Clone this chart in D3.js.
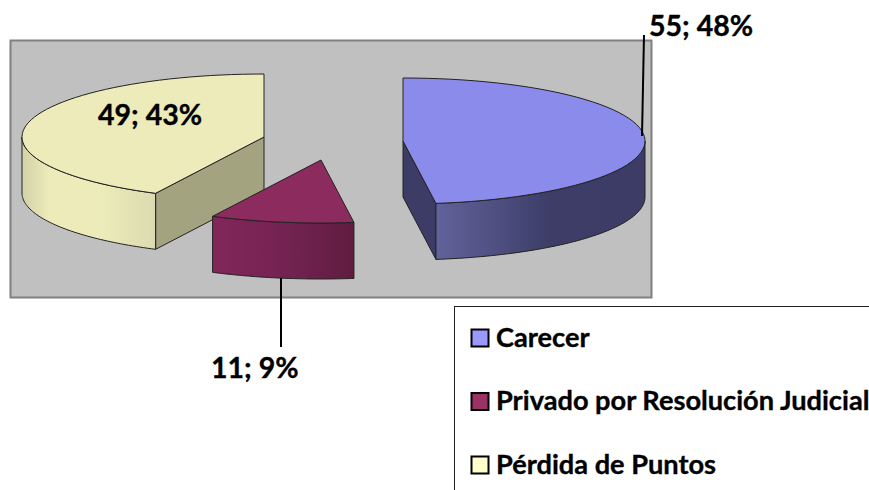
<!DOCTYPE html>
<html>
<head>
<meta charset="utf-8">
<script src="https://cdn.jsdelivr.net/npm/d3@7"></script>
<style>
  html, body { margin: 0; padding: 0; background: #fff; overflow: hidden; }
  text { font-family: Lato, "Open Sans", sans-serif; font-weight: 700; fill: #000; stroke: #000; stroke-width: 0.35px; }
</style>
</head>
<body>
<script>
//Chart data
var categories = ["Carecer", "Privado por Resolución Judicial", "Pérdida de Puntos"];
var values = [55, 11, 49];
var percents = [48, 9, 43];

//Colors per slice
var topColors = ["#8b8bec", "#8c2b5e", "#ecebb9"];
var legendColors = ["#9999ff", "#993366", "#ffffcc"];
var faceColors = ["#3c3c66", "#661f45", "#a4a380"];
var rimStops = [
    [["0%", "#62629c"], ["55%", "#3d3d68"], ["100%", "#3c3c66"]],
    [["0%", "#82265a"], ["55%", "#722350"], ["100%", "#5f1c40"]],
    [["0%", "#d3d1a8"], ["20%", "#ecebb9"], ["60%", "#ecebb9"], ["100%", "#dcdab0"]]
];

//Pie layout: ellipse size, depth and the exploded center of each slice
var rx = 242, ry = 63, depth = 56;
var centers = [[403, 141], [321, 160], [264, 137]];

var width = 869, height = 490;
var svg = d3.select("body").append("svg")
    .attr("width", width)
    .attr("height", height);
var defs = svg.append("defs");

//Plot area
svg.append("rect")
    .attr("x", 10.5).attr("y", 40.5)
    .attr("width", 641).attr("height", 257)
    .attr("fill", "#c0c0c0")
    .attr("stroke", "#808080")
    .attr("stroke-width", 2);

var pie = d3.pie().sort(null);
var arcs = pie(values);

//Scales from the unit circle to the screen, one pair per slice
function scalesFor(i) {
    return {
        x: d3.scaleLinear().domain([-1, 1]).range([centers[i][0] - rx, centers[i][0] + rx]),
        y: d3.scaleLinear().domain([-1, 1]).range([centers[i][1] - ry, centers[i][1] + ry])
    };
}

//Points along the rim between two angles, dy moves them down to the base
function rimPoints(i, a0, a1, dy) {
    var s = scalesFor(i);
    var n = 60;
    return d3.range(n + 1).map(function(k) {
        var a = a0 + (a1 - a0) * k / n;
        return [s.x(Math.sin(a)), s.y(-Math.cos(a)) + dy];
    });
}

var line = d3.line();
var order = [2, 0, 1];

order.forEach(function(i) {
    var d = arcs[i];
    var c = centers[i];
    var g = svg.append("g");

    //Straight inner face, only the one turned to the viewer
    var faceAngle = d.endAngle < Math.PI ? d.endAngle : (d.startAngle > Math.PI ? d.startAngle : null);
    if (faceAngle !== null) {
        var p = rimPoints(i, faceAngle, faceAngle, 0)[0];
        g.append("path")
            .attr("d", line([c, p, [p[0], p[1] + depth], [c[0], c[1] + depth]]) + "Z")
            .attr("fill", faceColors[i])
            .attr("stroke", "#222")
            .attr("stroke-width", 1);
    }

    //Outer rim, only the front half of the ellipse
    var a0 = Math.max(d.startAngle, Math.PI / 2);
    var a1 = Math.min(d.endAngle, Math.PI * 1.5);
    var top = rimPoints(i, a0, a1, 0);
    var bottom = rimPoints(i, a1, a0, depth);

    var grad = defs.append("linearGradient")
        .attr("id", "rim" + i)
        .attr("gradientUnits", "userSpaceOnUse")
        .attr("x1", d3.min(top, function(q) { return q[0]; }))
        .attr("x2", d3.max(top, function(q) { return q[0]; }))
        .attr("y1", 0).attr("y2", 0);
    rimStops[i].forEach(function(st) {
        grad.append("stop").attr("offset", st[0]).attr("stop-color", st[1]);
    });
    g.append("path")
        .attr("d", line(top.concat(bottom)) + "Z")
        .attr("fill", "url(#rim" + i + ")")
        .attr("stroke", "#222")
        .attr("stroke-width", 1);

    //Top face
    g.append("path")
        .attr("d", line([c].concat(rimPoints(i, d.startAngle, d.endAngle, 0))) + "Z")
        .attr("fill", topColors[i])
        .attr("stroke", "#222")
        .attr("stroke-width", 1);
});

//Leader lines
svg.append("line").attr("x1", 644).attr("y1", 35).attr("x2", 642).attr("y2", 136)
    .attr("stroke", "#000").attr("stroke-width", 2);
svg.append("line").attr("x1", 281).attr("y1", 278).attr("x2", 281).attr("y2", 347)
    .attr("stroke", "#000").attr("stroke-width", 2);

//Data labels
var labelPos = [[649, 36], [211, 378], [98, 125]];
svg.selectAll("text.lab")
    .data(values)
    .enter().append("text")
    .attr("class", "lab")
    .attr("x", function(v, i) { return labelPos[i][0]; })
    .attr("y", function(v, i) { return labelPos[i][1]; })
    .attr("font-size", 28.5)
    .text(function(v, i) { return v + "; " + percents[i] + "%"; });

//Legend box, it runs off the page
svg.append("rect")
    .attr("x", 454.5).attr("y", 306.5)
    .attr("width", 500).attr("height", 300)
    .attr("fill", "none")
    .attr("stroke", "#222")
    .attr("stroke-width", 1);

var legendY = d3.scalePoint().domain(categories).range([338, 465]);
var legend = svg.selectAll("g.leg")
    .data(categories)
    .enter().append("g")
    .attr("class", "leg")
    .attr("transform", function(c) { return "translate(0," + legendY(c) + ")"; });
legend.append("rect")
    .attr("x", 471.5).attr("y", -8.5)
    .attr("width", 17).attr("height", 17)
    .attr("fill", function(c, i) { return legendColors[i]; })
    .attr("stroke", "#000")
    .attr("stroke-width", 2);
legend.append("text")
    .attr("x", 496).attr("y", 8.5)
    .attr("font-size", 27.2)
    .text(function(c) { return c; });
</script>
</body>
</html>
